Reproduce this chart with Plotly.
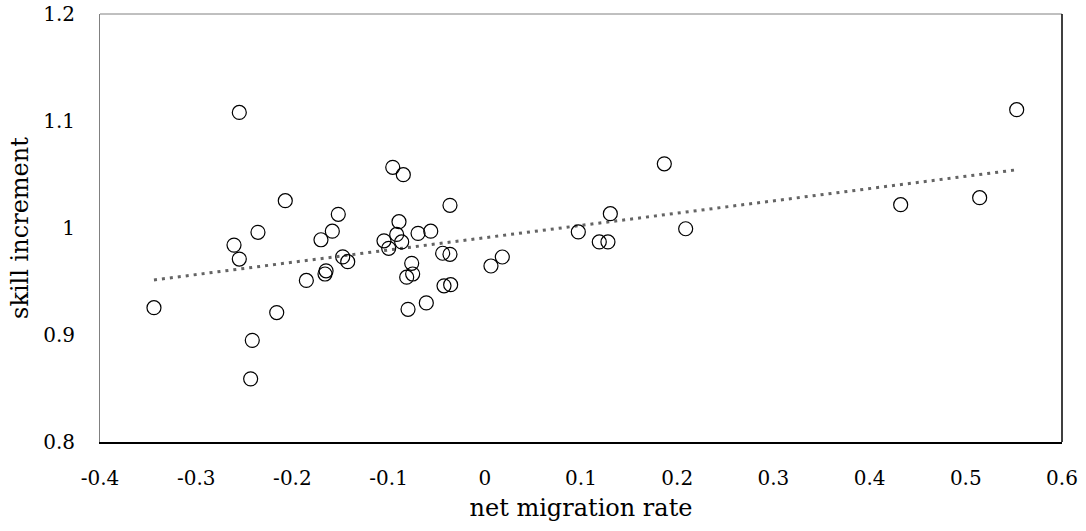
import numpy as np
import plotly.graph_objects as go

net_migration_rate = [
    -0.2552, -0.2074, -0.2358, -0.2607, -0.2552, -0.1703, -0.1661, -0.1855,
    -0.3439, -0.2163, -0.2417, -0.2434,
    -0.0957, -0.0847, -0.0362, -0.1523, -0.0892, -0.1585, -0.0916, -0.0694,
    -0.0562, -0.1048, -0.0864, -0.0999, -0.1477, -0.1425, -0.0438, -0.0362,
    0.0064, 0.0182, -0.0760, -0.0750, -0.0812, -0.1650, -0.0424,
    -0.0355, -0.0608, -0.0798,
    0.1866, 0.1305, 0.0972, 0.1190, 0.1280, 0.2088,
    0.5529, 0.5144, 0.4323,
]
skill_increment = [
    1.108, 1.0255, 0.996, 0.984, 0.971, 0.989, 0.957, 0.951,
    0.9255, 0.921, 0.895, 0.859,
    1.0567, 1.0498, 1.0212, 1.0128, 1.0059, 0.997, 0.994, 0.995,
    0.997, 0.988, 0.987, 0.981, 0.973, 0.9685, 0.9764, 0.9754,
    0.9645, 0.9729, 0.967, 0.957, 0.954, 0.960, 0.946,
    0.947, 0.930, 0.924,
    1.060, 1.0134, 0.9963, 0.987, 0.987, 0.9993,
    1.1106, 1.0283, 1.0218,
]

x_ticks = [-0.4, -0.3, -0.2, -0.1, 0, 0.1, 0.2, 0.3, 0.4, 0.5, 0.6]
x_tick_text = ["-0.4", "-0.3", "-0.2", "-0.1", "0", "0.1", "0.2", "0.3", "0.4", "0.5", "0.6"]
y_ticks = [0.8, 0.9, 1.0, 1.1, 1.2]
y_tick_text = ["0.8", "0.9", "1", "1.1", "1.2"]

xa = np.array(net_migration_rate)
ya = np.array(skill_increment)
slope, intercept = np.polyfit(xa, ya, 1)
x_fit = np.array([xa.min(), xa.max()])
y_fit = slope * x_fit + intercept

FONT = "DejaVu Serif"

fig = go.Figure()
fig.add_trace(go.Scatter(
    x=x_fit, y=y_fit, mode="lines",
    line=dict(color="#646464", width=3, dash="3px,5px"),
    hoverinfo="skip", showlegend=False,
))
fig.add_trace(go.Scatter(
    x=net_migration_rate, y=skill_increment, mode="markers",
    marker=dict(symbol="circle-open", size=14, color="black", line=dict(width=1.2, color="black")),
    showlegend=False,
))

fig.update_layout(
    width=1086, height=531,
    margin=dict(l=100, r=24, t=14, b=89),
    paper_bgcolor="white", plot_bgcolor="white",
    font=dict(family=FONT, size=20, color="black"),
    xaxis=dict(
        range=[-0.4, 0.6], tickvals=x_ticks, ticktext=x_tick_text,
        showgrid=False, zeroline=False, showline=True, linecolor="black", linewidth=2,
        ticks="", ticklabelstandoff=17, automargin=False,
        title=dict(text="net migration rate", font=dict(size=24), standoff=10),
        mirror=False,
    ),
    yaxis=dict(
        range=[0.8, 1.2], tickvals=y_ticks, ticktext=y_tick_text,
        showgrid=False, zeroline=False, showline=True, linecolor="#808080", linewidth=1,
        ticks="", ticklabelstandoff=20, automargin=False,
        title=dict(text="skill increment", font=dict(size=24), standoff=7),
    ),
    shapes=[
        dict(type="line", xref="paper", yref="paper", x0=0, x1=1, y0=1, y1=1,
             line=dict(color="#808080", width=1)),
        dict(type="line", xref="paper", yref="paper", x0=1, x1=1, y0=0, y1=1,
             line=dict(color="black", width=1.5)),
    ],
)

fig.write_html("out.html")
